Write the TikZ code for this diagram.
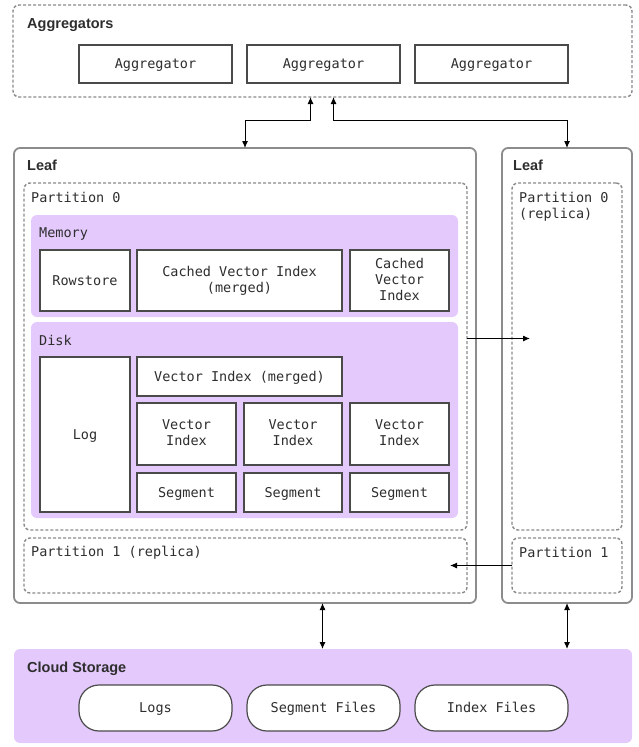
\documentclass[tikz,border=0pt]{standalone}
\usepackage{fontspec}
\setmainfont{Liberation Sans}
\newfontfamily\monofont{DejaVu Sans Mono}
\usepackage{tikz}
\usetikzlibrary{arrows.meta}

\definecolor{tierpurple}{HTML}{E4C9FC}
\definecolor{leafgray}{HTML}{8C8C8C}
\definecolor{dashgray}{HTML}{8A8A8A}
\definecolor{cellgray}{HTML}{4A4A4A}
\definecolor{inkgray}{HTML}{2E2E2E}

\newcommand\cellstrut{\rule[-3.1pt]{0pt}{16pt}}

\tikzset{
  box/.style = {anchor=north west, inner sep=0pt, outer sep=0pt},
  group/.style = {box, draw=dashgray, line width=1.4pt, dash pattern=on 3pt off 2pt, rounded corners=6pt},
  leafbox/.style = {box, draw=leafgray, line width=1.8pt, rounded corners=6pt},
  tier/.style = {box, fill=tierpurple, rounded corners=6pt},
  cell/.style = {box, draw=cellgray, line width=1.2pt, fill=white, align=center, text=inkgray,
                 font=\monofont\fontsize{13.5}{16}\selectfont,
                 execute at begin node=\cellstrut, execute at end node=\cellstrut},
  pill/.style = {cell, rounded corners=20pt},
  heading/.style = {anchor=base west, inner sep=0pt, text=inkgray, font=\bfseries\fontsize{14.5}{17}\selectfont},
  tag/.style = {anchor=base west, inner sep=0pt, align=left, text=inkgray, font=\monofont\fontsize{13.5}{16}\selectfont},
  link/.style = {line width=1pt, {Latex[length=7pt,width=6pt]}-{Latex[length=7pt,width=6pt]}},
  flow/.style = {line width=1pt, -{Latex[length=7pt,width=6pt]}}
}

\begin{document}
\begin{tikzpicture}[x=1pt, y=-1pt]
      \useasboundingbox (0,0) rectangle (638,747);
      % aggregator tier
      \node [group, minimum width=619pt, minimum height=92pt] (aggs) at (13,5) {};
      \node [heading] (aggstitle) at (27,28) {Aggregators};
      \node [cell, minimum width=153pt, minimum height=38pt] (agg1) at (79,45) {Aggregator};
      \node [cell, minimum width=153pt, minimum height=38pt] (agg2) at (247,45) {Aggregator};
      \node [cell, minimum width=153pt, minimum height=38pt] (agg3) at (415,45) {Aggregator};

      % left leaf
      \node [leafbox, minimum width=462pt, minimum height=455pt] (leafL) at (14,148) {};
      \node [heading] (leafLtitle) at (27,170) {Leaf};
      \node [group, minimum width=443pt, minimum height=347pt] (partL0) at (24,183) {};
      \node [tag] (partL0title) at (31,202) {Partition 0};
      \node [tier, minimum width=427pt, minimum height=102pt] (memory) at (31,215) {};
      \node [tag] (memorytitle) at (39,237) {Memory};
      \node [cell, minimum width=90pt, minimum height=61pt] (rowstore) at (40,250) {Rowstore};
      \node [cell, minimum width=205pt, minimum height=61pt] (cachedmerged) at (137,250) {Cached Vector Index\\(merged)};
      \node [cell, minimum width=99pt, minimum height=61pt] (cached) at (350,250) {Cached\\Vector\\Index};
      \node [tier, minimum width=427pt, minimum height=196pt] (disk) at (31,322) {};
      \node [tag] (disktitle) at (39,345) {Disk};
      \node [cell, minimum width=90pt, minimum height=155pt] (log) at (40,357) {Log};
      \node [cell, minimum width=205pt, minimum height=39pt] (vimerged) at (137,357) {Vector Index (merged)};
      \node [cell, minimum width=99pt, minimum height=62pt] (vi1) at (137,403) {Vector\\Index};
      \node [cell, minimum width=98pt, minimum height=62pt] (vi2) at (244,403) {Vector\\Index};
      \node [cell, minimum width=99pt, minimum height=62pt] (vi3) at (350,403) {Vector\\Index};
      \node [cell, minimum width=99pt, minimum height=39pt] (seg1) at (137,473) {Segment};
      \node [cell, minimum width=98pt, minimum height=39pt] (seg2) at (244,473) {Segment};
      \node [cell, minimum width=99pt, minimum height=39pt] (seg3) at (350,473) {Segment};
      \node [group, minimum width=443pt, minimum height=55pt] (partL1) at (24,538) {};
      \node [tag] (partL1title) at (31,556) {Partition 1 (replica)};

      % right leaf
      \node [leafbox, minimum width=130pt, minimum height=455pt] (leafR) at (502,148) {};
      \node [heading] (leafRtitle) at (513,170) {Leaf};
      \node [group, minimum width=110pt, minimum height=347pt] (partR0) at (512,183) {};
      \node [tag] (partR0title) at (519,218) {Partition 0\\(replica)};
      \node [group, minimum width=110pt, minimum height=55pt] (partR1) at (512,538) {};
      \node [tag] (partR1title) at (519,557) {Partition 1};

      % cloud storage
      \node [tier, minimum width=618pt, minimum height=94pt] (cloud) at (14,649) {};
      \node [heading] (cloudtitle) at (27,672) {Cloud Storage};
      \node [pill, minimum width=153pt, minimum height=46pt] (logs) at (79,685) {Logs};
      \node [pill, minimum width=153pt, minimum height=46pt] (segfiles) at (247,685) {Segment Files};
      \node [pill, minimum width=153pt, minimum height=46pt] (idxfiles) at (415,685) {Index Files};

      % connectors
      \draw [link] ([xshift=-12pt]aggs.south) -- ++(0,23) -| (leafL.north);
      \draw [link] ([xshift=11pt]aggs.south) -- ++(0,23) -| (leafR.north);
      \draw [flow] ([yshift=18pt]partL0.east) -- ([yshift=18pt, xshift=18pt]partR0.west);
      \draw [flow] (partR1.west) -- ([xshift=-17pt]partL1.east);
      \draw [link] (leafL.south -| aggs.south) -- (cloud.north -| aggs.south);
      \draw [link] (leafR.south) -- (cloud.north -| leafR.south);
\end{tikzpicture}
\end{document}
